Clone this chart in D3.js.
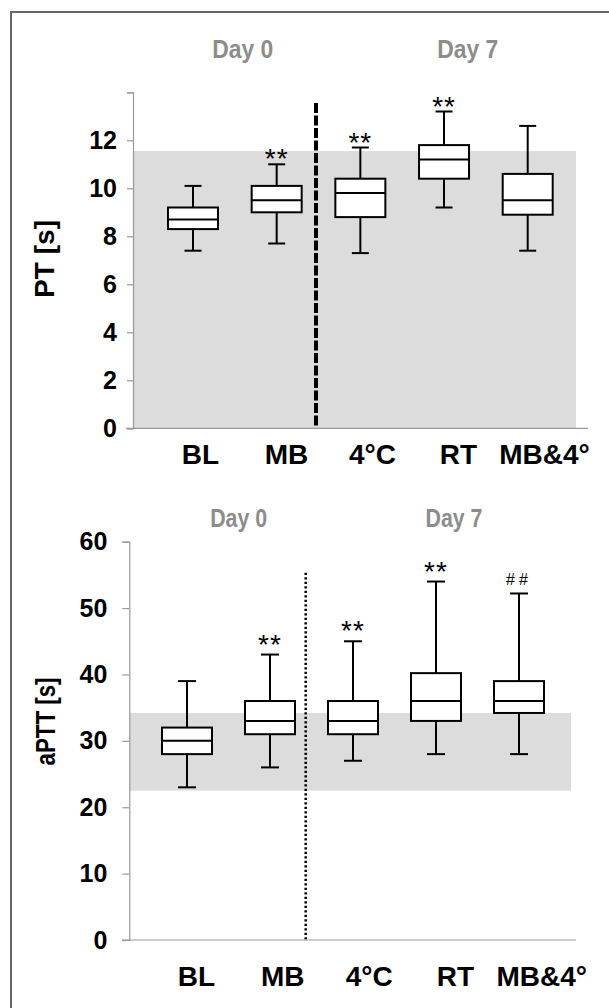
<!DOCTYPE html>
<html>
<head>
<meta charset="utf-8">
<script src="https://cdn.jsdelivr.net/npm/d3@7"></script>
<style>
  body { margin: 0; background: #fff; }
  svg { display: block; font-family: "Liberation Sans", Arial, sans-serif; }
</style>
</head>
<body>
<svg id="chart" width="609" height="1008"></svg>
<script>
// categories on the x axis, shared by both panels
const groups = ["BL", "MB", "4°C", "RT", "MB&4°"];
const days = ["Day 0", "Day 7"];

// PT [s] : whisker low, Q1, median, Q3, whisker high
const ptLow = [7.4, 7.7, 7.3, 9.2, 7.4];
const ptQ1 = [8.3, 9.0, 8.8, 10.4, 8.9];
const ptMedian = [8.7, 9.5, 9.8, 11.2, 9.5];
const ptQ3 = [9.2, 10.1, 10.4, 11.8, 10.6];
const ptHigh = [10.1, 11.0, 11.7, 13.2, 12.6];
const ptMarks = ["", "**", "**", "**", ""];
const ptRef = [0, 11.55];
const ptTicks = [0, 2, 4, 6, 8, 10, 12, 14];
const ptTickLabels = ["0", "2", "4", "6", "8", "10", "12", ""];

// aPTT [s]
const apttLow = [23, 26, 27, 28, 28];
const apttQ1 = [28, 31, 31, 33, 34.2];
const apttMedian = [30, 33, 33, 36, 36];
const apttQ3 = [32, 36, 36, 40.2, 39];
const apttHigh = [39, 43, 45, 54, 52.2];
const apttMarks = ["", "**", "**", "**", "##"];
const apttRef = [22.5, 34.2];
const apttTicks = [0, 10, 20, 30, 40, 50, 60];
const apttTickLabels = ["0", "10", "20", "30", "40", "50", "60"];

const svg = d3.select("#chart");

// outer frame (only top and left edges are visible)
svg.append("path")
    .attr("d", "M11,1008V12H609")
    .attr("fill", "none")
    .attr("stroke", "#666")
    .attr("stroke-width", 2);

function drawPanel(p) {
    let g = svg.append("g");

    let y = d3.scaleLinear().domain([p.ticks[0], p.ticks[p.ticks.length - 1]]).range([p.yBottom, p.yTop]);
    let x = d3.scalePoint().domain(groups).range(p.boxRange);
    let xl = d3.scalePoint().domain(groups).range(p.labelRange);

    // reference range band
    g.append("rect")
        .attr("x", p.axisX)
        .attr("y", y(p.ref[1]))
        .attr("width", p.bandRight - p.axisX)
        .attr("height", y(p.ref[0]) - y(p.ref[1]))
        .attr("fill", "#dcdcdc");

    // day 0 / day 7 divider
    g.append("line")
        .attr("x1", p.dividerX).attr("x2", p.dividerX)
        .attr("y1", p.dividerTop).attr("y2", p.yBottom)
        .attr("stroke", "#000")
        .attr("stroke-width", p.dividerWidth)
        .attr("stroke-dasharray", p.dividerDash);

    // y axis
    let axis = d3.axisLeft(y)
        .tickValues(p.ticks)
        .tickSize(p.tickLen)
        .tickPadding(p.tickPad)
        .tickFormat((d, i) => p.tickLabels[i]);
    let ax = g.append("g")
        .attr("transform", "translate(" + p.axisX + ",0)")
        .call(axis);
    ax.select(".domain").attr("stroke", "#999").attr("stroke-width", 1.2);
    ax.selectAll(".tick line").attr("stroke", "#999").attr("stroke-width", 1.2);
    ax.selectAll(".tick text")
        .attr("font-size", 25)
        .attr("font-weight", "bold")
        .attr("font-family", "Liberation Sans, Arial, sans-serif")
        .attr("fill", "#000");

    // x axis line
    g.append("line")
        .attr("x1", p.xAxisLeft).attr("x2", p.xAxisRight)
        .attr("y1", y(0)).attr("y2", y(0))
        .attr("stroke", "#999")
        .attr("stroke-width", 1.2);

    // boxes
    let rows = groups.map((k, i) => ({
        key: k, low: p.low[i], q1: p.q1[i], med: p.median[i], q3: p.q3[i], high: p.high[i], mark: p.marks[i]
    }));
    let box = g.selectAll("g.box")
        .data(rows)
        .enter()
        .append("g")
        .attr("class", "box")
        .attr("stroke", "#000")
        .attr("stroke-width", 2);

    box.append("line")
        .attr("x1", d => x(d.key)).attr("x2", d => x(d.key))
        .attr("y1", d => y(d.high)).attr("y2", d => y(d.low));
    box.append("line")
        .attr("x1", d => x(d.key) - p.capW / 2).attr("x2", d => x(d.key) + p.capW / 2)
        .attr("y1", d => y(d.high)).attr("y2", d => y(d.high));
    box.append("line")
        .attr("x1", d => x(d.key) - p.capW / 2).attr("x2", d => x(d.key) + p.capW / 2)
        .attr("y1", d => y(d.low)).attr("y2", d => y(d.low));
    box.append("rect")
        .attr("x", d => x(d.key) - p.boxW / 2)
        .attr("y", d => y(d.q3))
        .attr("width", p.boxW)
        .attr("height", d => y(d.q1) - y(d.q3))
        .attr("fill", "#fff");
    box.append("line")
        .attr("x1", d => x(d.key) - p.boxW / 2).attr("x2", d => x(d.key) + p.boxW / 2)
        .attr("y1", d => y(d.med)).attr("y2", d => y(d.med));

    // significance marks
    g.selectAll("text.mark")
        .data(rows.filter(d => d.mark))
        .enter()
        .append("text")
        .attr("class", "mark")
        .attr("x", d => x(d.key))
        .attr("y", d => y(d.high) - (d.mark == "##" ? p.hashGap : p.starGap))
        .attr("text-anchor", "middle")
        .attr("font-size", d => d.mark == "##" ? 16 : 28)
        .attr("letter-spacing", d => d.mark == "##" ? 4 : 1)
        .attr("fill", "#000")
        .text(d => d.mark);

    // category labels
    g.selectAll("text.cat")
        .data(groups)
        .enter()
        .append("text")
        .attr("class", "cat")
        .attr("x", d => xl(d))
        .attr("y", p.labelY)
        .attr("text-anchor", "middle")
        .attr("font-size", 28)
        .attr("font-weight", "bold")
        .attr("fill", "#000")
        .text(d => d);

    // day headers
    g.selectAll("text.day")
        .data(days)
        .enter()
        .append("text")
        .attr("class", "day")
        .attr("x", (d, i) => p.dayX[i] - p.dayW / 2)
        .attr("y", p.dayY)
        .attr("font-size", p.daySize)
        .attr("font-weight", "bold")
        .attr("fill", "#8c8c8c")
        .attr("textLength", p.dayW)
        .attr("lengthAdjust", "spacingAndGlyphs")
        .text(d => d);

    // y title
    g.append("text")
        .attr("transform", "translate(" + p.titleX + "," + p.titleY + ") rotate(-90)")
        .attr("x", -p.titleW / 2)
        .attr("font-size", 28)
        .attr("font-weight", "bold")
        .attr("fill", "#000")
        .attr("textLength", p.titleW)
        .attr("lengthAdjust", "spacingAndGlyphs")
        .text(p.title);
}

drawPanel({
    title: "PT [s]", titleX: 54, titleY: 259, titleW: 78,
    low: ptLow, q1: ptQ1, median: ptMedian, q3: ptQ3, high: ptHigh, marks: ptMarks,
    ref: ptRef, ticks: ptTicks, tickLabels: ptTickLabels,
    yBottom: 428.3, yTop: 92.3, axisX: 133, tickLen: 6, tickPad: 10,
    xAxisLeft: 126, xAxisRight: 588, bandRight: 576,
    boxRange: [193, 527.7], labelRange: [200.5, 544.5], labelY: 464,
    boxW: 50, capW: 17, starGap: -4, hashGap: 4,
    dividerX: 316, dividerTop: 103, dividerWidth: 4, dividerDash: "10,2.5",
    dayX: [242.7, 467.7], dayY: 58, dayW: 61, daySize: 26
});

drawPanel({
    title: "aPTT [s]", titleX: 55, titleY: 721.5, titleW: 88,
    low: apttLow, q1: apttQ1, median: apttMedian, q3: apttQ3, high: apttHigh, marks: apttMarks,
    ref: apttRef, ticks: apttTicks, tickLabels: apttTickLabels,
    yBottom: 940, yTop: 541.7, axisX: 129.3, tickLen: 7, tickPad: 15,
    xAxisLeft: 122, xAxisRight: 576, bandRight: 571,
    boxRange: [187, 519], labelRange: [196.5, 541.8], labelY: 986,
    boxW: 50, capW: 18, starGap: 1, hashGap: 8,
    dividerX: 305.7, dividerTop: 572.7, dividerWidth: 2.5, dividerDash: "2.3,2.2",
    dayX: [238.7, 454], dayY: 527, dayW: 57, daySize: 25
});
</script>
</body>
</html>
